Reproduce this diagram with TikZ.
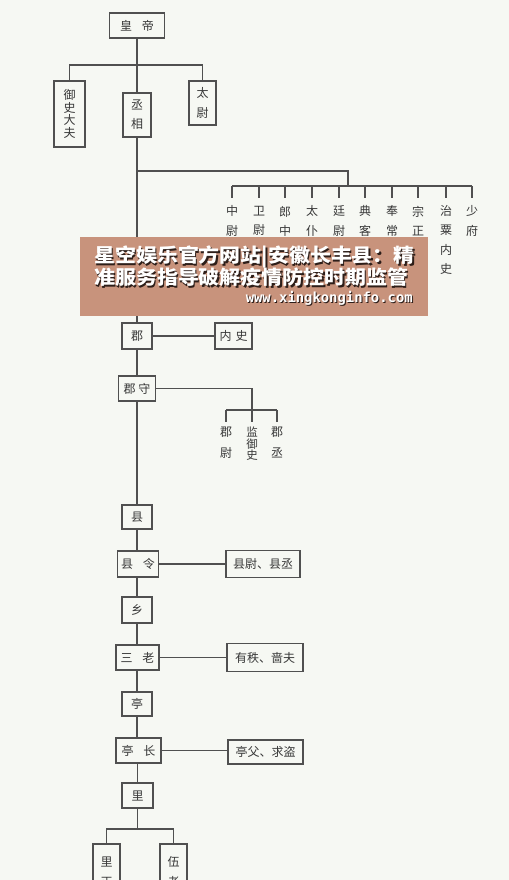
\documentclass[tikz,border=0pt]{standalone}
\usepackage{fontspec}
\newfontfamily\cjk{Noto Sans CJK SC}
\newfontfamily\webfont{DejaVu Sans Mono}
\definecolor{bg}{RGB}{246,248,243}
\definecolor{ln}{RGB}{80,80,80}
\definecolor{tx}{RGB}{55,55,55}
\definecolor{banner}{RGB}{200,147,124}
\definecolor{shadow}{RGB}{45,30,25}
\begin{document}
\begin{tikzpicture}[x=0.75pt,y=-0.75pt,
  sz/.style 2 args={minimum width={#1*0.75pt},minimum height={#2*0.75pt}},
  box/.style={draw=ln,line width=1pt,fill=bg,inner sep=0pt,text=tx,align=center,
    font=\cjk\fontsize{9}{10}\selectfont},
  vt/.style={inner sep=0pt,text=tx,align=center,font=\cjk\fontsize{9}{14.5}\selectfont},
  conn/.style={draw=ln,line width=0.9pt},
  bt/.style={inner sep=0pt,anchor=west,font=\cjk\bfseries\fontsize{15.7}{16}\selectfont},
]
\fill[bg] (0,0) rectangle (509,880);
\useasboundingbox (0,0) rectangle (509,880);

% ---- top level
\node[box,sz={55}{25}] (hd) at (137,25.5) {皇\hspace{0.8em}帝};
\node[box,sz={31}{66},font=\cjk\fontsize{9}{9.6}\selectfont] (ys) at (69.5,114) {御\\史\\大\\夫};
\node[box,sz={28}{44},font=\cjk\fontsize{9}{14.25}\selectfont] (cx) at (137,115) {丞\\相};
\node[box,sz={27}{44},font=\cjk\fontsize{9}{15}\selectfont] (tw) at (202.5,103) {太\\尉};
\coordinate (tb) at (137,65);
\draw[conn] (hd.south) -- (cx.north);
\draw[conn] (ys.north) |- (tb) -| (tw.north);

% ---- ministers
\node[vt] (m1) at (232,221) {中\\尉};
\node[vt] (m2) at (259,221) {卫\\尉};
\node[vt] (m3) at (285,231) {郎\\中\\令};
\node[vt] (m4) at (312,221) {太\\仆};
\node[vt] (m5) at (339,221) {廷\\尉};
\node[vt] (m6) at (365,221) {典\\客};
\node[vt] (m7) at (392,221) {奉\\常};
\node[vt] (m8) at (418,221) {宗\\正};
\node[vt] (m9) at (446,240) {治\\粟\\内\\史};
\node[vt] (m10) at (472,221) {少\\府};
\coordinate (br) at (137,171);
\coordinate (mb) at (348,186);
\draw[conn] (br) -| (mb);
\draw[conn] (m1 |- mb) -- (m10 |- mb);
\foreach \m in {m1,m2,m3,m4,m5,m6,m7,m8,m9,m10}
  \draw[conn] (\m |- mb) -- ++(0,12);

% ---- commandery
\node[box,sz={30}{26}] (jun) at (137,336) {郡};
\node[box,sz={37}{26}] (ns) at (233.5,336) {内\hspace{3pt}史};
\node[box,sz={37}{25}] (js) at (137,388.5) {郡\hspace{2pt}守};
\draw[conn] (cx.south) -- (jun.north);
\draw[conn] (jun.east) -- (ns.west);
\draw[conn] (jun.south) -- (js.north);
\node[vt,font=\cjk\fontsize{9}{15.75}\selectfont] (jw) at (226,442.5) {郡\\尉};
\node[vt,font=\cjk\fontsize{8.6}{8.6}\selectfont] (jy) at (252,444) {监\\御\\史};
\node[vt,font=\cjk\fontsize{9}{15.75}\selectfont] (jc) at (277,442.5) {郡\\丞};
\coordinate (jb) at (252,410);
\draw[conn] (js.east) -| (jb);
\draw[conn] (jw |- jb) -- (jc |- jb);
\foreach \m in {jw,jy,jc}
  \draw[conn] (\m |- jb) -- ++(0,12);

% ---- county
\node[box,sz={30}{24}] (xian) at (137,517) {县};
\node[box,sz={41}{26}] (xl) at (138,564) {县\hspace{0.8em}令};
\node[box,sz={74}{27}] (xw) at (263,564) {县尉、县丞};
\node[box,sz={30}{26}] (xiang) at (137,610) {乡};
\node[box,sz={43}{25}] (sl) at (137.5,657.5) {三\hspace{0.8em}老};
\node[box,sz={76}{28}] (yz) at (265,657.5) {有秩、啬夫};
\node[box,sz={30}{24}] (ting) at (137,704) {亭};
\node[box,sz={45}{25}] (tz) at (138.5,750.5) {亭\hspace{0.8em}长};
\node[box,sz={75}{24}] (tf) at (265.5,752) {亭父、求盗};
\node[box,sz={31}{25}] (li) at (137.5,795.5) {里};
\draw[conn] (js.south) -- (xian.north);
\draw[conn] (xian.south) -- (xian.south |- xl.north);
\draw[conn] (xl.east) -- (xw.west);
\draw[conn] (xiang.north |- xl.south) -- (xiang.north);
\draw[conn] (xiang.south) -- (xiang.south |- sl.north);
\draw[conn] (sl.east) -- (yz.west);
\draw[conn] (ting.north |- sl.south) -- (ting.north);
\draw[conn] (ting.south) -- (ting.south |- tz.north);
\draw[conn] (tz.east) -- (tz.east -| tf.west);
\draw[conn] (li.north |- tz.south) -- (li.north);

% ---- village
\node[box,sz={27}{56},font=\cjk\fontsize{9}{15}\selectfont] (lz) at (106.5,872) {里\\正};
\node[box,sz={27}{56},font=\cjk\fontsize{9}{15}\selectfont] (wl) at (173.5,872) {伍\\老};
\coordinate (lb) at (137.5,829);
\draw[conn] (li.south) -- (lb);
\draw[conn] (lz.north) |- (lb) -| (wl.north);

% ---- banner
\node[fill=banner,inner sep=0pt,anchor=north west,sz={348}{79}] (bn) at (80,237) {};
\node[bt,text=shadow] (t1s) at (95.5,258.5) {\scalebox{1}[0.92]{星空娱乐官方网站|安徽长丰县：精}};
\node[bt,text=white] (t1) at (94,257) {\scalebox{1}[0.92]{星空娱乐官方网站|安徽长丰县：精}};
\node[bt,text=shadow] (t2s) at (95.5,279) {\scalebox{1}[0.92]{准服务指导破解疫情防控时期监管}};
\node[bt,text=white] (t2) at (94,277.5) {\scalebox{1}[0.92]{准服务指导破解疫情防控时期监管}};
\node[inner sep=0pt,anchor=east,text=shadow,font=\webfont\bfseries\fontsize{10.4}{11}\selectfont] (w1s) at (414,299) {www.xingkonginfo.com};
\node[inner sep=0pt,anchor=east,text=white,font=\webfont\bfseries\fontsize{10.4}{11}\selectfont] (w1) at (413,298) {www.xingkonginfo.com};
\end{tikzpicture}
\end{document}
